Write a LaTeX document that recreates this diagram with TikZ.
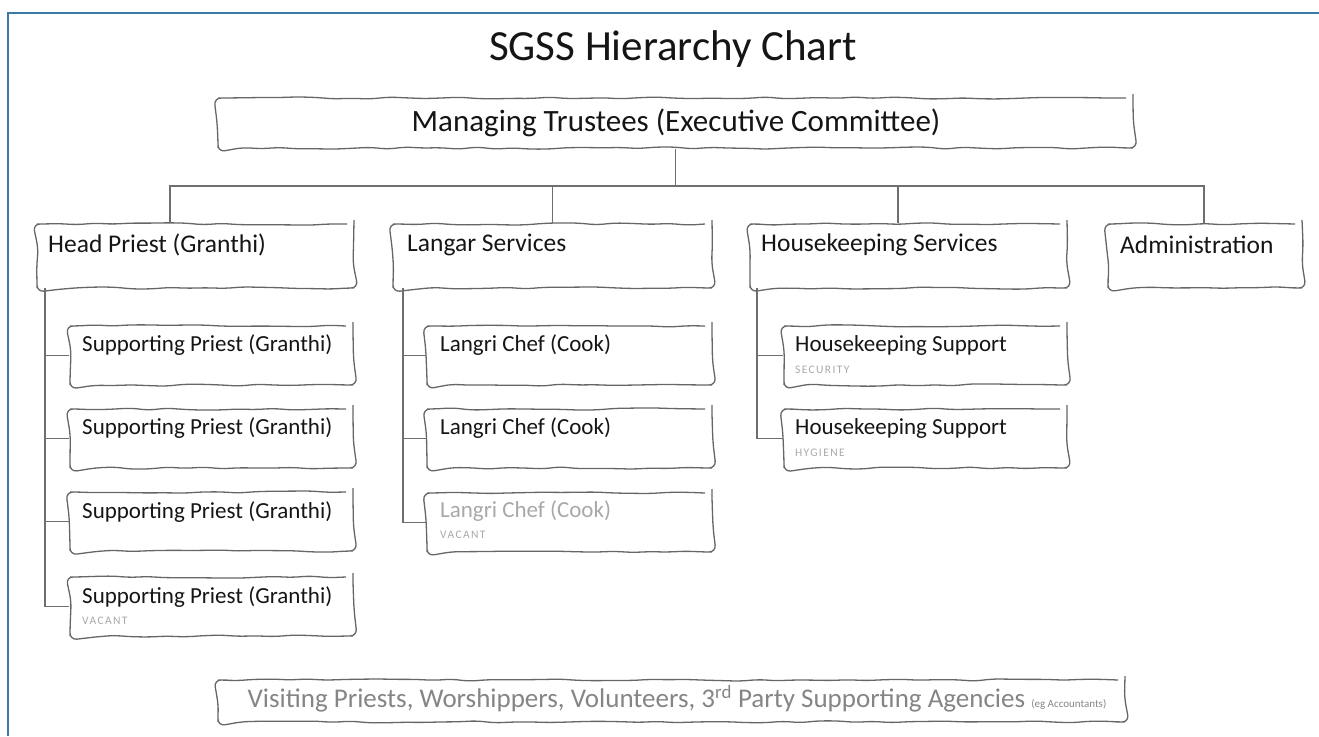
\documentclass[tikz,border=0pt]{standalone}
\usepackage{fontspec}
\setmainfont{Carlito}
\usetikzlibrary{decorations.pathmorphing}
\definecolor{frameblue}{HTML}{3D7AA6}
\definecolor{boxgray}{HTML}{666666}
\definecolor{linegray}{HTML}{6E6E6E}
\definecolor{txt}{HTML}{151515}
\definecolor{vac}{HTML}{A8A8A8}
\definecolor{soft}{HTML}{858585}
\begin{document}
\begin{tikzpicture}[x=1pt,y=-1pt,
  box/.style={draw=boxgray, line width=1.3pt, inner sep=0pt,
    decorate, decoration={random steps, segment length=18pt, amplitude=1.2pt},
    rounded corners=7pt},
  conn/.style={draw=linegray, line width=1.3pt},
  lbl/.style={inner sep=0pt, text=txt},
  ttl/.style={lbl, font=\fontsize{43}{46}\selectfont},
  top/.style={lbl, font=\fontsize{31}{34}\selectfont},
  dept/.style={lbl, anchor=west, font=\fontsize{25.5}{28}\selectfont},
  role/.style={lbl, anchor=west, font=\fontsize{23}{26}\selectfont},
  sub/.style={lbl, anchor=west, text=vac, font=\fontsize{11.5}{13}\selectfont\addfontfeature{LetterSpace=12}},
]
\pgfmathsetseed{11}
\useasboundingbox (0,0) rectangle (1319,736);
% frame
\draw[frameblue, line width=2.5pt] (8,736) -- (8,13) -- (1319,13);

% title
\node[ttl] (title) at (673,49) {SGSS Hierarchy Chart};

% top box
\node[box, minimum width=915pt, minimum height=50pt] (mt) at (675.5,123) {};
\node[top] (mtt) at (676,123) {Managing Trustees (Executive Committee)};

% department boxes
\node[box, minimum width=317pt, minimum height=64pt] (hp) at (195.5,256) {};
\node[box, minimum width=319pt, minimum height=64pt] (ls) at (552.5,256) {};
\node[box, minimum width=317pt, minimum height=64pt] (hk) at (908.5,256) {};
\node[box, minimum width=194pt, minimum height=64pt] (ad) at (1205,256) {};
\node[dept] (hpt) at (48,245) {Head Priest (Granthi)};
\node[dept] (lst) at (407,245) {Langar Services};
\node[dept] (hkt) at (761,245) {Housekeeping Services};
\node[dept] (adt) at (1120,245) {Administration};

% supporting priests
\node[box, minimum width=283pt, minimum height=59pt] (sp1) at (211.5,355.5) {};
\node[box, minimum width=283pt, minimum height=59pt] (sp2) at (211.5,438.5) {};
\node[box, minimum width=283pt, minimum height=59pt] (sp3) at (211.5,521.5) {};
\node[box, minimum width=283pt, minimum height=59pt] (sp4) at (211.5,606.5) {};
\node[role] (sp1t) at (82,345) {Supporting Priest (Granthi)};
\node[role] (sp2t) at (82,428) {Supporting Priest (Granthi)};
\node[role] (sp3t) at (82,512) {Supporting Priest (Granthi)};
\node[role] (sp4t) at (82,597) {Supporting Priest (Granthi)};
\node[sub] (sp4s) at (82,621) {VACANT};

% langri chefs
\node[box, minimum width=285pt, minimum height=59pt] (lc1) at (569.5,355.5) {};
\node[box, minimum width=285pt, minimum height=59pt] (lc2) at (569.5,438.5) {};
\node[box, minimum width=285pt, minimum height=59pt] (lc3) at (569.5,522.5) {};
\node[role] (lc1t) at (440,345) {Langri Chef (Cook)};
\node[role] (lc2t) at (440,428) {Langri Chef (Cook)};
\node[role, text=vac] (lc3t) at (440,511) {Langri Chef (Cook)};
\node[sub] (lc3s) at (440,535) {VACANT};

% housekeeping support
\node[box, minimum width=283pt, minimum height=59pt] (hs1) at (925.5,355.5) {};
\node[box, minimum width=283pt, minimum height=59pt] (hs2) at (925.5,438.5) {};
\node[role] (hs1t) at (795,345) {Housekeeping Support};
\node[role] (hs2t) at (795,428) {Housekeeping Support};
\node[sub] (hs1s) at (795,370) {SECURITY};
\node[sub] (hs2s) at (795,453) {HYGIENE};

% bottom box
\node[box, minimum width=907pt, minimum height=42pt] (vis) at (671.5,701) {};
\node[lbl, text=soft, font=\fontsize{27}{30}\selectfont] (vist) at (677,699)
  {Visiting Priests, Worshippers, Volunteers, 3\textsuperscript{rd} Party Supporting Agencies {\fontsize{11}{12}\selectfont(eg Accountants)}};

% connectors
\coordinate (busL) at (170,186);
\coordinate (busR) at (1204,186);
\draw[conn] (mt.south) -- (mt.south |- busL);
\draw[conn] (busL |- hp.north) -- (busL) -- (busR) -- (busR |- ad.north);
\draw[conn] (ls.north) -- (ls.north |- busL);
\coordinate (hkD) at (898,186);
\draw[conn] (hkD) -- (hkD |- hk.north);

\coordinate (hpS) at (45,288);
\draw[conn] (hpS) |- (sp4.west);
\draw[conn] (hpS |- sp1.west) -- (sp1.west);
\draw[conn] (hpS |- sp2.west) -- (sp2.west);
\draw[conn] (hpS |- sp3.west) -- (sp3.west);

\coordinate (lsS) at (403,288);
\draw[conn] (lsS) |- (lc3.west);
\draw[conn] (lsS |- lc1.west) -- (lc1.west);
\draw[conn] (lsS |- lc2.west) -- (lc2.west);

\coordinate (hkS) at (757,288);
\draw[conn] (hkS) |- (hs2.west);
\draw[conn] (hkS |- hs1.west) -- (hs1.west);
\end{tikzpicture}
\end{document}
